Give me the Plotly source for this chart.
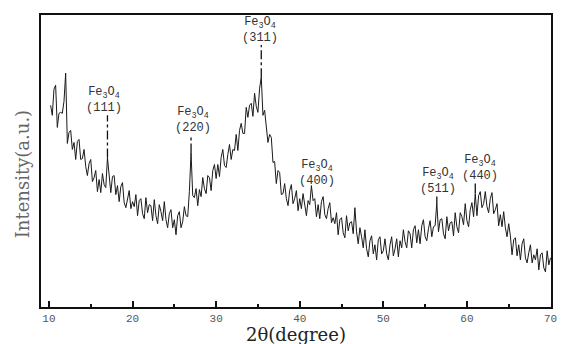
import numpy as np
import plotly.graph_objects as go

# 2-theta grid (degrees), 0.2 deg steps from 10.2 to 70.0
two_theta = np.round(np.arange(10.2, 70.001, 0.2), 1)

intensity = [
    201, 191, 217, 221, 179, 193, 194, 193, 205, 233,
    163, 174, 176, 157, 164, 147, 165, 167, 147, 148,
    157, 140, 131, 143, 147, 125, 129, 136, 115, 127,
    114, 133, 122, 119, 149, 131, 114, 130, 131, 112,
    121, 105, 120, 124, 104, 99, 109, 116, 98, 105,
    100, 112, 91, 106, 108, 93, 88, 109, 94, 102,
    101, 86, 107, 91, 83, 102, 95, 86, 105, 87,
    79, 93, 97, 79, 87, 72, 91, 95, 79, 85,
    100, 91, 90, 115, 154, 111, 109, 118, 101, 117,
    110, 129, 118, 113, 131, 129, 116, 136, 142, 128,
    142, 130, 149, 157, 141, 139, 152, 162, 147, 157,
    156, 172, 156, 176, 183, 173, 173, 199, 189, 201,
    203, 190, 213, 200, 194, 218, 229, 191, 196, 178,
    164, 172, 169, 144, 145, 123, 136, 134, 112, 113,
    123, 108, 101, 116, 122, 103, 108, 116, 96, 108,
    98, 113, 99, 91, 106, 102, 121, 106, 108, 90,
    102, 88, 105, 110, 92, 88, 98, 104, 84, 89,
    83, 94, 72, 87, 89, 74, 69, 91, 76, 84,
    85, 73, 99, 75, 63, 79, 70, 59, 77, 58,
    50, 66, 71, 53, 62, 47, 67, 70, 53, 56,
    68, 53, 47, 62, 70, 51, 58, 68, 50, 66,
    59, 77, 65, 59, 76, 73, 59, 77, 81, 64,
    77, 63, 81, 87, 70, 66, 78, 86, 70, 80,
    81, 104, 75, 87, 88, 73, 68, 90, 76, 84,
    85, 71, 94, 80, 74, 94, 90, 82, 103, 86,
    80, 97, 104, 90, 113, 91, 111, 115, 99, 103,
    115, 100, 94, 108, 114, 93, 97, 103, 81, 92,
    80, 95, 79, 70, 83, 71, 52, 67, 69, 51,
    62, 47, 63, 68, 49, 44, 54, 62, 44, 52,
    47, 58, 37, 52, 54, 39, 35, 56, 42, 49,
]

peak_hkl = ["(111)", "(220)", "(311)", "(400)", "(511)", "(440)"]
peak_2theta = [17.0, 27.0, 35.4, 41.4, 56.4, 61.0]
peak_top = [149, 154, 229, 121, 104, 113]

# label placement (data coords) and marker line tops
label_x = [16.63, 27.28, 35.3, 42.1, 56.6, 61.6]
label_y = [206, 186, 276, 134, 126, 139]
line_top = [191, 171, 261, None, 110, 123]
line_dash = ["dashdot", "dashdot", "dashdot", None, "solid", "solid"]

x_ticks = [10, 20, 30, 40, 50, 60, 70]

fig = go.Figure()
fig.add_trace(go.Scatter(x=two_theta, y=intensity, mode="lines",
                         line=dict(color="#1a1a1a", width=1), showlegend=False))

shapes = []
annotations = []
for hkl, px, top, lx, ly, lt, ld in zip(peak_hkl, peak_2theta, peak_top,
                                         label_x, label_y, line_top, line_dash):
    if lt is not None:
        shapes.append(dict(type="line", xref="x", yref="y", x0=px, x1=px,
                           y0=top, y1=lt, line=dict(color="#111", width=1.3, dash=ld)))
    annotations.append(dict(x=lx, y=ly, xref="x", yref="y",
                            text="Fe<sub>3</sub>O<sub>4</sub><br>" + hkl,
                            showarrow=False, align="center",
                            font=dict(family="Liberation Mono", size=12, color="#333")))

annotations.append(dict(x=0.5, y=-0.052, xref="paper", yref="paper",
                        text="2θ(degree)", showarrow=False, yanchor="top",
                        font=dict(family="DejaVu Serif", size=18, color="#222")))
annotations.append(dict(x=-0.037, y=0.455, xref="paper", yref="paper",
                        text="Intensity(a.u.)", showarrow=False, textangle=-90,
                        xanchor="center",
                        font=dict(family="DejaVu Serif", size=18, color="#666")))

fig.update_layout(
    width=562, height=344,
    margin=dict(l=41, r=5, t=15, b=37),
    plot_bgcolor="white", paper_bgcolor="white",
    shapes=shapes, annotations=annotations,
    xaxis=dict(range=[9.05, 70.06], tickvals=x_ticks, ticks="inside", ticklen=6,
               tickwidth=2, tickcolor="#111",
               minor=dict(ticks="inside", ticklen=3, tickwidth=2, dtick=5, tick0=0,
                          tickcolor="#111", showgrid=False),
               showline=True, linecolor="#111", linewidth=2, mirror=True,
               showgrid=False, zeroline=False,
               tickfont=dict(family="Liberation Mono", size=11, color="#555")),
    yaxis=dict(range=[0, 291], showticklabels=False, ticks="", showline=True,
               linecolor="#111", linewidth=2, mirror=True, showgrid=False,
               zeroline=False),
)

fig.write_html("out.html")
